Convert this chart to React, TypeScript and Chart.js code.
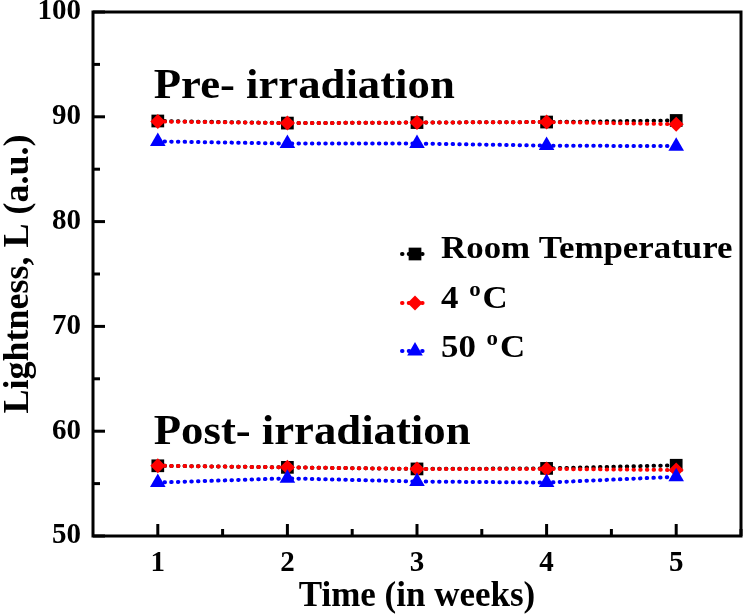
import React, { useEffect, useRef } from 'react';
import { Chart, registerables } from 'chart.js';

Chart.register(...registerables);

// ---- data ----
const weeks = [1, 2, 3, 4, 5];
const seriesNames = ['Room Temperature', '4 ºC', '50 ºC'];
const preRT = [89.6, 89.4, 89.45, 89.5, 89.65];
const pre4C = [89.55, 89.4, 89.45, 89.5, 89.3];
const pre50C = [87.65, 87.45, 87.45, 87.25, 87.2];
const postRT = [56.7, 56.55, 56.4, 56.45, 56.75];
const post4C = [56.7, 56.55, 56.4, 56.4, 56.3];
const post50C = [55.1, 55.5, 55.2, 55.1, 55.65];
const yTicks = [50, 60, 70, 80, 90, 100];
const groupLabels = ['Pre- irradiation', 'Post- irradiation'];
const groupLabelY = [91.8, 58.8];

const FF = "'Liberation Serif', 'Times New Roman', serif";
const colors = ['#000000', '#ff0000', '#0000ff'];
const styles = ['rect', 'rectRot', 'triangle'];
const radii = [9, 7.5, 9];

function mk(label: string, vals: number[], k: number) {
  return {
    label,
    data: weeks.map((w, i) => ({ x: w, y: vals[i] })),
    borderColor: colors[k],
    backgroundColor: colors[k],
    pointStyle: styles[k],
    pointRadius: radii[k],
    pointBorderWidth: 0,
    borderWidth: 4,
    borderDash: [0.5, 6.2],
    borderCapStyle: 'round',
    order: 3 - k,
  };
}

function drawMarker(ctx: CanvasRenderingContext2D, k: number, x: number, y: number) {
  const r = radii[k];
  ctx.beginPath();
  if (k === 0) {
    const s = r * Math.SQRT1_2;
    ctx.rect(x - s, y - s, 2 * s, 2 * s);
  } else if (k === 1) {
    ctx.moveTo(x - r, y);
    ctx.lineTo(x, y - r);
    ctx.lineTo(x + r, y);
    ctx.lineTo(x, y + r);
    ctx.closePath();
  } else {
    const h = r * 1.5;
    const half = (r * Math.sqrt(3)) / 2;
    ctx.moveTo(x, y - r);
    ctx.lineTo(x + half, y - r + h);
    ctx.lineTo(x - half, y - r + h);
    ctx.closePath();
  }
  ctx.fillStyle = colors[k];
  ctx.fill();
}

// draw text horizontally stretched by sx
function wideText(ctx: CanvasRenderingContext2D, t: string, x: number, y: number, sx: number) {
  ctx.save();
  ctx.translate(x, y);
  ctx.scale(sx, 1);
  ctx.fillText(t, 0, 0);
  ctx.restore();
  return ctx.measureText(t).width * sx;
}

const decor = {
  id: 'decor',
  afterDatasetsDraw(chart: any) {
    const { ctx, chartArea: a, scales } = chart;
    const xs = scales.x;
    const ys = scales.y;
    ctx.save();
    ctx.setLineDash([]);
    ctx.strokeStyle = '#000';
    ctx.lineWidth = 3;
    ctx.lineCap = 'butt';
    ctx.strokeRect(a.left, a.top, a.right - a.left, a.bottom - a.top);
    // inward ticks on y
    for (let v = yTicks[0]; v <= yTicks[yTicks.length - 1]; v += 5) {
      const py = ys.getPixelForValue(v);
      const len = v % 10 === 0 ? 12 : 7;
      ctx.beginPath();
      ctx.moveTo(a.left, py);
      ctx.lineTo(a.left + len, py);
      ctx.stroke();
    }
    // inward ticks on x
    for (let v = 1; v <= 5.5; v += 0.5) {
      const px = xs.getPixelForValue(v);
      const len = Number.isInteger(v) ? 12 : 7;
      ctx.beginPath();
      ctx.moveTo(px, a.bottom);
      ctx.lineTo(px, a.bottom - len);
      ctx.stroke();
    }
    // group labels
    ctx.fillStyle = '#000';
    ctx.font = `bold 43px ${FF}`;
    ctx.textBaseline = 'alphabetic';
    ctx.textAlign = 'left';
    groupLabels.forEach((t, i) => {
      wideText(ctx, t, xs.getPixelForValue(weeks[0]) - 4, ys.getPixelForValue(groupLabelY[i]), 1.04);
    });
    // legend
    const lx0 = 402, lx1 = 428, tx = 441;
    const rowsY = [254, 303, 351];
    const baseY = [258, 308, 357];
    const SX = 1.09;
    seriesNames.forEach((name, k) => {
      const cy = rowsY[k];
      ctx.save();
      ctx.strokeStyle = colors[k];
      ctx.lineWidth = 4;
      ctx.lineCap = 'round';
      ctx.setLineDash([0.5, 6.2]);
      ctx.beginPath();
      ctx.moveTo(lx0, cy);
      ctx.lineTo(lx1, cy);
      ctx.stroke();
      ctx.restore();
      drawMarker(ctx, k, (lx0 + lx1) / 2, cy);
      ctx.fillStyle = '#000';
      ctx.font = `bold 32px ${FF}`;
      const bY = baseY[k];
      if (name.includes('º')) {
        const [num, unit] = name.split(' º');
        let x = tx;
        x += wideText(ctx, num + ' ', x, bY, SX) + 2;
        ctx.font = `bold 21px ${FF}`;
        x += wideText(ctx, 'o', x, bY - 12, SX) + 2;
        ctx.font = `bold 32px ${FF}`;
        wideText(ctx, unit, x, bY, SX);
      } else {
        wideText(ctx, name, tx, bY, SX);
      }
    });
    ctx.restore();
  },
};

export default function App() {
  const ref = useRef<HTMLCanvasElement>(null);
  useEffect(() => {
    if (!ref.current) return;
    const chart = new Chart(ref.current, {
      type: 'line',
      data: {
        datasets: [
          mk(seriesNames[0], preRT, 0),
          mk(seriesNames[1], pre4C, 1),
          mk(seriesNames[2], pre50C, 2),
          mk(seriesNames[0], postRT, 0),
          mk(seriesNames[1], post4C, 1),
          mk(seriesNames[2], post50C, 2),
        ] as any,
      },
      options: {
        responsive: false,
        animation: false,
        layout: { padding: { top: 12, right: 3, left: 0, bottom: 0 } },
        plugins: { legend: { display: false }, tooltip: { enabled: false } },
        scales: {
          x: {
            type: 'linear',
            min: 0.5,
            max: 5.5,
            grid: { display: false, drawTicks: false },
            border: { display: false },
            afterBuildTicks: (s: any) => {
              s.ticks = weeks.map((w) => ({ value: w }));
            },
            afterFit: (s: any) => {
              s.height = 78;
              s.paddingLeft = 0;
              s.paddingRight = 0;
            },
            ticks: {
              color: '#000',
              padding: 10,
              font: { family: FF, size: 29, weight: 'bold' },
            },
            title: {
              display: true,
              text: 'Time (in weeks)',
              color: '#000',
              padding: { top: 0, bottom: 0 },
              font: { family: FF, size: 35, weight: 'bold', lineHeight: 1 },
            },
          },
          y: {
            type: 'linear',
            min: 50,
            max: 100,
            grid: { display: false, drawTicks: false },
            border: { display: false },
            afterBuildTicks: (s: any) => {
              s.ticks = yTicks.map((v) => ({ value: v }));
            },
            afterFit: (s: any) => {
              s.width = 93;
              s.paddingTop = 0;
              s.paddingBottom = 0;
            },
            ticks: {
              color: '#000',
              padding: 12,
              font: { family: FF, size: 29, weight: 'bold' },
            },
            title: {
              display: true,
              text: 'Lightness, L (a.u.)',
              color: '#000',
              padding: { top: 1, bottom: 0 },
              font: { family: FF, size: 36, weight: 'bold', lineHeight: 1 },
            },
          },
        },
      },
      plugins: [decor],
    } as any);
    return () => chart.destroy();
  }, []);
  return (
    <div style={{ position: 'absolute', left: 0, top: 0, width: 750, height: 614, background: '#fff' }}>
      <canvas ref={ref} width={750} height={614} />
    </div>
  );
}
